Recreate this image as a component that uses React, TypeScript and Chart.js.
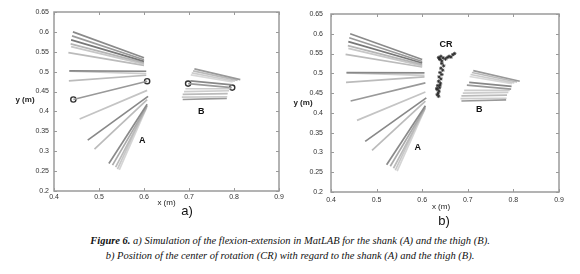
import React, { useEffect, useRef } from "react";
import { Chart, registerables } from "chart.js";
Chart.register(...registerables);

// ---- axis ticks ----
const xTickValues = [0.4, 0.5, 0.6, 0.7, 0.8, 0.9];
const yTickValues = [0.2, 0.25, 0.3, 0.35, 0.4, 0.45, 0.5, 0.55, 0.6, 0.65];

// ---- shank (A) segments ----
const shankX0 = [0.442, 0.44, 0.438, 0.437, 0.438, 0.432, 0.434, 0.434, 0.433, 0.443, 0.457, 0.475, 0.49, 0.522, 0.53, 0.537, 0.541, 0.545];
const shankY0 = [0.6, 0.59, 0.58, 0.57, 0.563, 0.548, 0.502, 0.501, 0.477, 0.43, 0.381, 0.328, 0.305, 0.269, 0.265, 0.26, 0.255, 0.253];
const shankX1 = [0.6, 0.6, 0.6, 0.6, 0.6, 0.6, 0.605, 0.605, 0.605, 0.607, 0.607, 0.609, 0.607, 0.607, 0.607, 0.606, 0.605, 0.604];
const shankY1 = [0.535, 0.53, 0.526, 0.522, 0.519, 0.516, 0.501, 0.495, 0.491, 0.476, 0.453, 0.438, 0.43, 0.418, 0.414, 0.41, 0.412, 0.405];
const shankGray = ["#8a8a8a", "#9a9a9a", "#777777", "#b5b5b5", "#c8c8c8", "#bbbbbb", "#888888", "#cccccc", "#bbbbbb", "#999999", "#c4c4c4", "#888888", "#bbbbbb", "#8a8a8a", "#aaaaaa", "#bbbbbb", "#c8c8c8", "#d5d5d5"];

// ---- thigh (B) segments ----
const thighX0 = [0.712, 0.709, 0.706, 0.704, 0.703, 0.698, 0.692, 0.689, 0.686, 0.684, 0.686];
const thighY0 = [0.507, 0.502, 0.497, 0.492, 0.477, 0.47, 0.457, 0.45, 0.443, 0.436, 0.43];
const thighX1 = [0.814, 0.808, 0.802, 0.797, 0.796, 0.795, 0.792, 0.789, 0.786, 0.785, 0.784];
const thighY1 = [0.48, 0.478, 0.476, 0.474, 0.467, 0.46, 0.457, 0.452, 0.445, 0.437, 0.433];
const thighGray = ["#999999", "#bbbbbb", "#cccccc", "#d8d8d8", "#888888", "#999999", "#cccccc", "#cccccc", "#bbbbbb", "#cccccc", "#999999"];

// ---- circle markers (panel a) ----
const circleX = [0.443, 0.607, 0.698, 0.796];
const circleY = [0.43, 0.476, 0.47, 0.46];

// ---- centre of rotation points (panel b) ----
const crX = [0.636, 0.639, 0.641, 0.643, 0.638, 0.646, 0.651, 0.655, 0.659, 0.663, 0.667, 0.671, 0.643, 0.647, 0.641, 0.645, 0.639, 0.643, 0.637, 0.641, 0.636, 0.64, 0.634, 0.638, 0.633, 0.637, 0.635, 0.633, 0.636, 0.639, 0.632];
const crY = [0.54, 0.535, 0.543, 0.531, 0.537, 0.539, 0.536, 0.54, 0.543, 0.541, 0.547, 0.55, 0.525, 0.519, 0.513, 0.508, 0.502, 0.497, 0.491, 0.486, 0.48, 0.475, 0.469, 0.464, 0.459, 0.455, 0.45, 0.446, 0.442, 0.47, 0.462];

// ---- text annotations ----
const labelsA = ["A", "B"];
const labelsAX = [0.596, 0.727];
const labelsAY = [0.328, 0.399];
const labelsB = ["A", "B", "CR"];
const labelsBX = [0.59, 0.725, 0.652];
const labelsBY = [0.312, 0.408, 0.572];

const fmt = (v: number) => String(Number(v.toFixed(2)));

type PanelCfg = {
  left: number;
  width: number;
  height: number;
  plot: { l: number; t: number; r: number; b: number };
  xPad: number;
  yPad: number;
  xTitleDx: number;
  xTitleDy: number;
  yTitleX: number;
  yTitleY: number;
  panelLabel: string;
  panelLabelPos: [number, number];
  circles: boolean;
  cr: boolean;
  texts: string[];
  textX: number[];
  textY: number[];
};

function Panel({ cfg }: { cfg: PanelCfg }) {
  const ref = useRef<HTMLCanvasElement | null>(null);
  useEffect(() => {
    const canvas = ref.current;
    if (!canvas) return;
    const datasets: any[] = [];
    shankX0.forEach((_, i) => {
      datasets.push({
        data: [
          { x: shankX0[i], y: shankY0[i] },
          { x: shankX1[i], y: shankY1[i] },
        ],
        showLine: true,
        borderColor: shankGray[i],
        borderWidth: 1.7,
        pointRadius: 0,
      });
    });
    thighX0.forEach((_, i) => {
      datasets.push({
        data: [
          { x: thighX0[i], y: thighY0[i] },
          { x: thighX1[i], y: thighY1[i] },
        ],
        showLine: true,
        borderColor: thighGray[i],
        borderWidth: 1.7,
        pointRadius: 0,
      });
    });
    if (cfg.circles) {
      datasets.push({
        data: circleX.map((x, i) => ({ x, y: circleY[i] })),
        showLine: false,
        pointStyle: "circle",
        pointRadius: 2.6,
        borderColor: "#333333",
        backgroundColor: "#ffffff",
        borderWidth: 1.4,
      });
    }
    if (cfg.cr) {
      datasets.push({
        data: crX.map((x, i) => ({ x, y: crY[i] })),
        showLine: false,
        pointStyle: "star",
        pointRadius: 1.8,
        borderColor: "#2a2a2a",
        backgroundColor: "#2a2a2a",
        borderWidth: 0.8,
      });
    }

    const deco = {
      id: "deco",
      afterDatasetsDraw(chart: any) {
        const ctx = chart.ctx;
        const xs = chart.scales.x;
        const ys = chart.scales.y;
        ctx.save();
        ctx.fillStyle = "#111111";
        ctx.font = "bold 9px 'Liberation Sans', Arial, sans-serif";
        ctx.textAlign = "center";
        ctx.textBaseline = "middle";
        cfg.texts.forEach((t, i) => {
          ctx.fillText(t, xs.getPixelForValue(cfg.textX[i]), ys.getPixelForValue(cfg.textY[i]));
        });
        ctx.restore();
      },
      afterDraw(chart: any) {
        const ctx = chart.ctx;
        const { left, top, right, bottom } = chart.chartArea;
        const xs = chart.scales.x;
        const ys = chart.scales.y;
        ctx.save();
        ctx.strokeStyle = "#9a9a9a";
        ctx.lineWidth = 1;
        ctx.beginPath();
        xTickValues.forEach((v) => {
          const p = Math.round(xs.getPixelForValue(v)) + 0.5;
          ctx.moveTo(p, bottom);
          ctx.lineTo(p, bottom - 3);
          ctx.moveTo(p, top);
          ctx.lineTo(p, top + 3);
        });
        yTickValues.forEach((v) => {
          const p = Math.round(ys.getPixelForValue(v)) + 0.5;
          ctx.moveTo(left, p);
          ctx.lineTo(left + 3, p);
          ctx.moveTo(right, p);
          ctx.lineTo(right - 3, p);
        });
        ctx.stroke();
        ctx.lineWidth = 1.5;
        ctx.strokeRect(left, top, right - left, bottom - top);
        ctx.fillStyle = "#222222";
        ctx.font = "8px 'Liberation Sans', Arial, sans-serif";
        ctx.textAlign = "center";
        ctx.textBaseline = "middle";
        ctx.fillText("x (m)", (left + right) / 2 + cfg.xTitleDx, bottom + cfg.xTitleDy);
        ctx.font = "bold 8px 'Liberation Sans', Arial, sans-serif";
        ctx.fillText("y (m)", cfg.yTitleX, cfg.yTitleY);
        ctx.font = "13px 'Liberation Sans', Arial, sans-serif";
        ctx.fillStyle = "#111111";
        ctx.fillText(cfg.panelLabel, cfg.panelLabelPos[0], cfg.panelLabelPos[1]);
        ctx.restore();
      },
    };

    const chart = new Chart(canvas, {
      type: "scatter",
      data: { datasets },
      options: {
        animation: false,
        responsive: false,
        maintainAspectRatio: false,
        devicePixelRatio: 1,
        layout: {
          padding: { left: 0, right: cfg.width - cfg.plot.r, top: cfg.plot.t, bottom: 0 },
        },
        plugins: { legend: { display: false }, tooltip: { enabled: false } },
        scales: {
          x: {
            type: "linear",
            min: 0.4,
            max: 0.9,
            afterBuildTicks: (s: any) => {
              s.ticks = xTickValues.map((v) => ({ value: v }));
            },
            grid: { display: false, drawTicks: false },
            border: { display: false },
            ticks: {
              autoSkip: false,
              maxRotation: 0,
              padding: cfg.xPad,
              color: "#333333",
              font: { size: 7, family: "'Liberation Sans', Arial, sans-serif" },
              callback: (v: any) => fmt(Number(v)),
            },
            afterFit: (s: any) => {
              s.height = cfg.height - cfg.plot.b;
            },
          },
          y: {
            type: "linear",
            min: 0.2,
            max: 0.65,
            afterBuildTicks: (s: any) => {
              s.ticks = yTickValues.map((v) => ({ value: v }));
            },
            grid: { display: false, drawTicks: false },
            border: { display: false },
            ticks: {
              autoSkip: false,
              padding: cfg.yPad,
              color: "#333333",
              font: { size: 7, family: "'Liberation Sans', Arial, sans-serif" },
              callback: (v: any) => fmt(Number(v)),
            },
            afterFit: (s: any) => {
              s.width = cfg.plot.l;
            },
          },
        },
      },
      plugins: [deco],
    } as any);
    return () => chart.destroy();
  }, [cfg]);

  return (
    <canvas
      ref={ref}
      width={cfg.width}
      height={cfg.height}
      style={{ position: "absolute", left: cfg.left, top: 0, width: cfg.width, height: cfg.height }}
    />
  );
}

const panelA: PanelCfg = {
  left: 0,
  width: 290,
  height: 232,
  plot: { l: 54, t: 12, r: 279, b: 191 },
  xPad: 2,
  yPad: 5,
  xTitleDx: 0,
  xTitleDy: 12,
  yTitleX: 25,
  yTitleY: 100,
  panelLabel: "a)",
  panelLabelPos: [187, 211],
  circles: true,
  cr: false,
  texts: labelsA,
  textX: labelsAX,
  textY: labelsAY,
};

const panelB: PanelCfg = {
  left: 290,
  width: 290,
  height: 232,
  plot: { l: 41, t: 14, r: 269, b: 192 },
  xPad: 4,
  yPad: 8,
  xTitleDx: -4,
  xTitleDy: 15,
  yTitleX: 13,
  yTitleY: 103,
  panelLabel: "b)",
  panelLabelPos: [154, 221],
  circles: false,
  cr: true,
  texts: labelsB,
  textX: labelsBX,
  textY: labelsBY,
};

export default function App() {
  return (
    <div style={{ position: "absolute", left: 0, top: 0, width: 580, height: 274, background: "#ffffff", overflow: "hidden" }}>
      <Panel cfg={panelA} />
      <Panel cfg={panelB} />
      <div
        style={{
          position: "absolute",
          left: 0,
          top: 233,
          width: 580,
          textAlign: "center",
          fontFamily: "'Liberation Serif', 'Times New Roman', serif",
          fontStyle: "italic",
          fontSize: 10.5,
          lineHeight: "15px",
          color: "#111111",
        }}
      >
        <div>
          <b>Figure 6.</b> a) Simulation of the flexion-extension in MatLAB for the shank (A) and the thigh (B).
        </div>
        <div>b) Position of the center of rotation (CR) with regard to the shank (A) and the thigh (B).</div>
      </div>
    </div>
  );
}
